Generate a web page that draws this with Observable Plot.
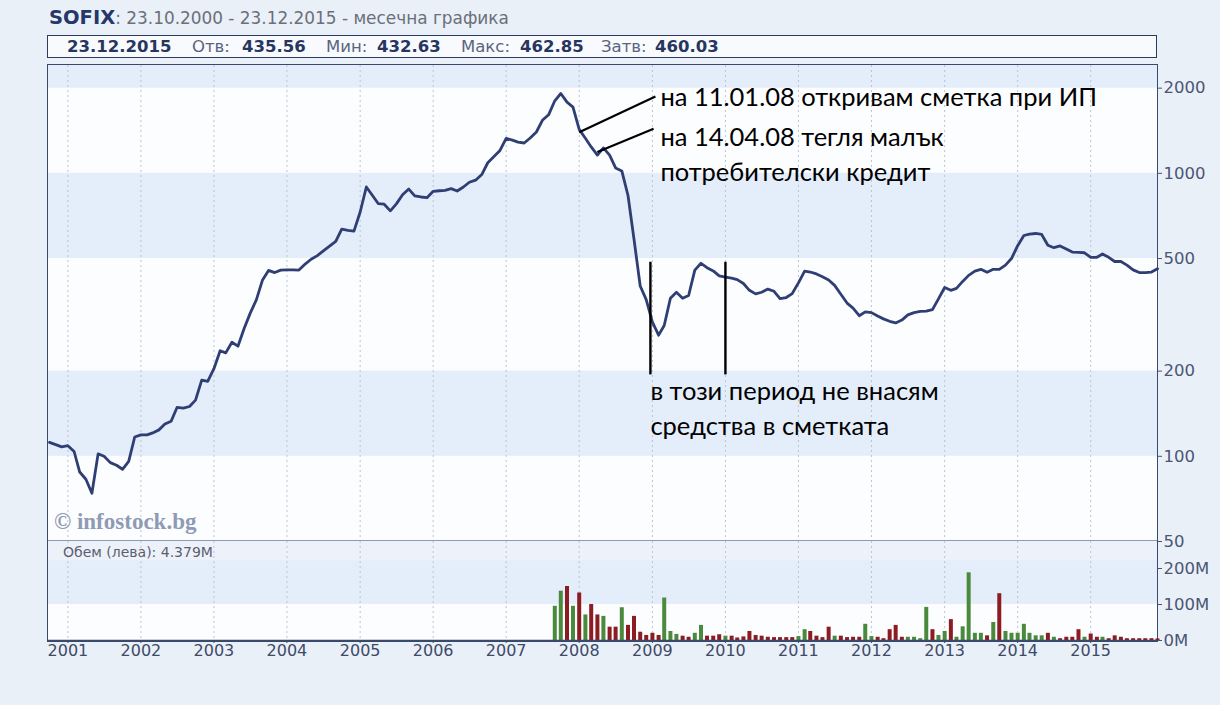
<!DOCTYPE html>
<html><head><meta charset="utf-8">
<script src="https://cdn.jsdelivr.net/npm/d3@7"></script>
<script src="https://cdn.jsdelivr.net/npm/@observablehq/plot@0.6"></script>
<style>
body{margin:0;background:#eaf0f8;font-family:"DejaVu Sans",Verdana,sans-serif;}
#wrap{position:relative;width:1220px;height:705px;overflow:hidden;background:#eaf0f8;}
.abs{position:absolute;white-space:nowrap;}
.info span{position:absolute;top:1px;font-size:16.5px;color:#5a6480;}
.info b{color:#26365e;}
</style></head><body><div id="wrap"></div>
<script>
// ---- data ----
// monthly SOFIX closes, Oct 2000 ... Dec 2015
const closes = [
  112,110,108,109,104,88,83,74,102,100,95,93,
  90,96,117,119,119,121,124,130,133,149,148,150,
  158,186,184,204,236,232,253,245,283,320,357,420,
  454,446,455,456,456,455,478,497,512,532,553,575,
  635,629,625,730,895,840,782,778,737,780,840,880,
  832,825,820,864,868,870,883,866,895,930,946,990,
  1090,1146,1205,1330,1310,1290,1280,1333,1400,1540,1610,1805,
  1915,1785,1715,1430,1330,1240,1160,1230,1160,1045,1020,835,
  585,400,358,298,268,290,362,380,362,370,455,481,
  464,452,434,430,426,421,408,386,375,380,390,383,
  361,364,376,410,451,448,441,431,420,402,374,348,
  334,314,324,322,313,306,300,296,303,316,322,325,
  326,330,360,395,386,392,415,436,451,458,447,458,
  458,474,500,555,603,610,613,608,557,546,554,540,
  527,526,524,505,505,519,505,488,488,474,456,446,
  446,448,460
];
// monthly volume (million leva), Sep 2007 ... Dec 2015
const volumeStart = "2007-09-01";
const volumesM = [
  95,137,150,95,132,71,100,71,67,37,
  37,91,42,67,23,14,20,14,118,25,
  17,12,9,20,42,12,12,16,12,12,
  7,10,25,14,12,9,8,8,8,8,
  11,30,25,12,8,37,12,12,8,9,
  9,45,11,9,5,30,42,9,9,9,
  5,92,30,14,25,58,9,38,188,20,
  20,13,50,130,25,20,20,45,20,13,
  13,20,9,5,9,9,30,9,18,9,
  9,5,13,9,5,5,5,5,5,4.4
];
const volumeDir = (
  "GGRGRGRRGR"+"RGRRRRRRGG"+"GRRGGRRRGR"+"RRRRRRRRRR"+"GGRRRRGRRR"+
  "RGGRRRRRGG"+"GGRGGRGGGG"+"GRGRGGGGGG"+"GRGRRRRGRR"+"GRRRRRRRRR").split("");

const years = [2001,2002,2003,2004,2005,2006,2007,2008,2009,2010,2011,2012,2013,2014,2015];
const priceTicks = [50,100,200,500,1000,2000];
const priceBandLow = [2000,500,100];
const priceBandHigh = [2405,1000,200];
const volumeTicks = [0,100,200];
const volumeTickLabels = ["0M","100M","200M"];

const noteTexts = ["на 11.01.08 откривам сметка при ИП","на 14.04.08 тегля малък","потребителски кредит","в този период не внасям","средства в сметката"];
const noteDates = ["2009-02-10","2009-02-10","2009-02-10","2008-12-22","2008-12-22"];
const noteValues = [1854,1340,1008,168.5,127];
const leaderFromDates = ["2008-01-01","2008-04-01"];
const leaderFromValues = [1398,1190];
const leaderToDates = ["2009-01-16","2009-01-07"];
const leaderToValues = [1870,1437];
const periodDates = ["2008-12-22","2010-01-01"];
const periodTop = 485, periodBottom = 194;

// ---- build tables ----
const series = closes.map((v,i)=>({date:new Date(Date.UTC(2000,9+i,1)), close:v}));
const vs = new Date(volumeStart);
const volData = volumesM.map((v,i)=>({date:new Date(Date.UTC(vs.getUTCFullYear(), vs.getUTCMonth()+i,1)), vol:v, dir:volumeDir[i]}));
const yearDates = years.map(y=>new Date(Date.UTC(y,0,1)));
const bands = priceBandLow.map((lo,i)=>({lo, hi:priceBandHigh[i]}));
const notes = noteTexts.map((t,i)=>({t, date:new Date(noteDates[i]), v:noteValues[i]}));
const leaders = leaderFromDates.map((d,i)=>({x1:new Date(d), y1:leaderFromValues[i], x2:new Date(leaderToDates[i]), y2:leaderToValues[i]}));
const periods = periodDates.map(d=>({date:new Date(d)}));
const xDomain = [new Date(Date.UTC(2000,8,26)), new Date(Date.UTC(2015,11,1))];

const wrap = document.getElementById("wrap");
function add(html, css){const d=document.createElement("div");d.className="abs";d.innerHTML=html;Object.assign(d.style,css);wrap.appendChild(d);return d;}

// title
add('<span style="font-weight:bold;color:#26386a;font-size:19.5px">SOFIX</span><span style="color:#6a6f7a;font-size:16.9px">: 23.10.2000 - 23.12.2015 - месечна графика</span>',{left:"49px",top:"6px"});
// info box
const info = add('',{left:"47px",top:"35px",width:"1108px",height:"21px",border:"1.5px solid #2c3b62",background:"#f8fafd"});
info.className="abs info";
const infoParts=[["<b>23.12.2015</b>",19],["Отв:",144],["<b>435.56</b>",194],["Мин:",278],["<b>432.63</b>",329],["Макс:",413],["<b>462.85</b>",472],["Затв:",553],["<b>460.03</b>",607]];
infoParts.forEach(([h,l])=>{const s=document.createElement("span");s.innerHTML=h;s.style.left=l+"px";info.appendChild(s);});
// frame
add('',{left:"47px",top:"64px",width:"1109px",height:"576px",border:"1.5px solid #3a4a6c",background:"#fcfdff",boxSizing:"content-box"});

const fontStyle = {background:"transparent",overflow:"visible",fontFamily:"DejaVu Sans, Verdana, sans-serif"};

// price panel
const price = Plot.plot({
  width:1220, height:476, marginLeft:48, marginRight:63, marginTop:0, marginBottom:0,
  style:{...fontStyle, fontSize:"16px"},
  x:{type:"utc", domain:xDomain, axis:null},
  y:{type:"log", domain:[50,2405]},
  marks:[
    Plot.rect(bands,{y1:"lo",y2:"hi",fill:"#e4edfa"}),
    Plot.ruleX(yearDates,{stroke:"#b8c3d6",strokeDasharray:"2,3",strokeWidth:1}),
    Plot.line(series,{x:"date",y:"close",stroke:"#2f3f74",strokeWidth:2.8,strokeLinejoin:"round"}),
    Plot.link(leaders,{x1:"x1",y1:"y1",x2:"x2",y2:"y2",stroke:"#000",strokeWidth:2.2}),
    Plot.ruleX(periods,{x:"date",y1:periodTop,y2:periodBottom,stroke:"#000",strokeWidth:2.4}),
    Plot.text(notes,{x:"date",y:"v",text:"t",textAnchor:"start",fontSize:25.5,fontFamily:"Lato, sans-serif",fill:"#000"}),
    Plot.axisY(priceTicks,{anchor:"right",tickSize:4,tickPadding:2,color:"#4a5674",fontSize:16.5,tickFormat:d=>String(d)})
  ]
});
Object.assign(price.style,{position:"absolute",left:"0px",top:"65px"});
wrap.appendChild(price);

// separator
add('',{left:"48px",top:"540px",width:"1109px",height:"2px",background:"#8d99ad"});

// volume panel
const vol = Plot.plot({
  width:1220, height:120, marginLeft:48, marginRight:63, marginTop:0, marginBottom:21,
  style:{...fontStyle, fontSize:"16px"},
  x:{type:"utc", domain:xDomain},
  y:{domain:[0,275]},
  color:{domain:["G","R"],range:["#4a8a3c","#8c1c22"]},
  marks:[
    Plot.rect([{lo:100,hi:222}],{y1:"lo",y2:"hi",fill:"#e4edfa"}),
    Plot.rect([{lo:222,hi:275}],{y1:"lo",y2:"hi",fill:"#edf2fa"}),
    Plot.ruleX(yearDates,{stroke:"#b8c3d6",strokeDasharray:"2,3",strokeWidth:1}),
    Plot.ruleX(volData,{x:"date",y1:0,y2:"vol",stroke:"dir",strokeWidth:4}),
    Plot.ruleY([0],{stroke:"#3a4a6c",strokeWidth:1.5}),
    Plot.axisY(volumeTicks,{anchor:"right",tickSize:4,tickPadding:2,color:"#4a5674",fontSize:16.5,tickFormat:(d)=>volumeTickLabels[volumeTicks.indexOf(d)]}),
    Plot.axisX(yearDates,{anchor:"bottom",tickSize:3,tickPadding:1,color:"#3e4a68",fontSize:16,tickFormat:d=>String(d.getUTCFullYear())})
  ]
});
Object.assign(vol.style,{position:"absolute",left:"0px",top:"541px"});
wrap.appendChild(vol);

// texts
add('Обем (лева): 4.379M',{left:"63px",top:"544px",fontSize:"14px",color:"#5b6070"});
add('© infostock.bg',{left:"54px",top:"509px",fontSize:"23px",fontWeight:"bold",fontFamily:"'Liberation Serif',serif",color:"#8f9bb4"});
</script>
</body></html>
